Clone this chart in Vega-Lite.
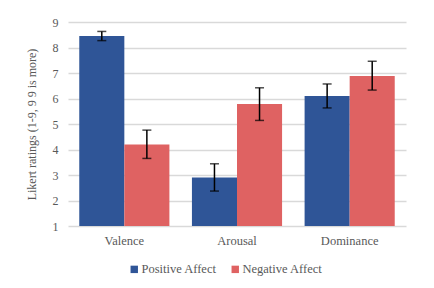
{
  "$schema": "https://vega.github.io/schema/vega-lite/v6.json",
  "width": 338,
  "height": 204,
  "autosize": {"type": "none"},
  "padding": {"left": 68, "top": 22, "right": 28, "bottom": 62},
  "background": "white",
  "config": {
    "view": {"stroke": null},
    "font": "Liberation Serif",
    "axis": {"labelFont": "Liberation Serif", "titleFont": "Liberation Serif", "labelColor": "#595959", "titleColor": "#595959", "labelFontSize": 12, "titleFontSize": 12, "titleFontWeight": "normal"},
    "legend": {"labelFont": "Liberation Serif", "labelColor": "#595959", "labelFontSize": 12}
  },
  "data": {
    "values": [
      {"dim": "Valence", "affect": "Positive Affect", "mean": 8.45, "lo": 8.27, "hi": 8.63},
      {"dim": "Valence", "affect": "Negative Affect", "mean": 4.2, "lo": 3.65, "hi": 4.76},
      {"dim": "Arousal", "affect": "Positive Affect", "mean": 2.9, "lo": 2.37, "hi": 3.44},
      {"dim": "Arousal", "affect": "Negative Affect", "mean": 5.78, "lo": 5.14, "hi": 6.42},
      {"dim": "Dominance", "affect": "Positive Affect", "mean": 6.1, "lo": 5.63, "hi": 6.57},
      {"dim": "Dominance", "affect": "Negative Affect", "mean": 6.88, "lo": 6.33, "hi": 7.46}
    ]
  },
  "encoding": {
    "x": {
      "field": "dim", "type": "nominal", "sort": ["Valence", "Arousal", "Dominance"],
      "scale": {"paddingInner": 0.2, "paddingOuter": 0.1},
      "axis": {"title": null, "labelAngle": 0, "domain": false, "ticks": false, "labelPadding": 8, "labelFont": "Liberation Serif", "labelFontSize": 12.5}
    },
    "xOffset": {"field": "affect", "type": "nominal", "sort": ["Positive Affect", "Negative Affect"], "scale": {"paddingInner": 0, "paddingOuter": 0}}
  },
  "layer": [
    {
      "mark": {"type": "bar"},
      "encoding": {
        "y": {
          "field": "mean", "type": "quantitative",
          "scale": {"domain": [1, 9], "nice": false, "zero": false},
          "axis": {"title": "Likert ratings (1-9, 9 9 is more)", "values": [1,2,3,4,5,6,7,8,9], "domain": false, "ticks": false, "grid": true, "gridColor": "#D9D9D9", "gridWidth": 1.5, "labelPadding": 10, "titlePadding": 14, "labelFont": "Liberation Serif", "titleFont": "Liberation Serif"}
        },
        "y2": {"datum": 1},
        "color": {
          "field": "affect", "type": "nominal", "sort": ["Positive Affect", "Negative Affect"],
          "scale": {"range": ["#2F5597", "#DF6262"]},
          "legend": {"title": null, "orient": "none", "direction": "horizontal", "legendX": 60, "legendY": 241, "symbolType": "square", "symbolSize": 55, "symbolStrokeWidth": 0, "columnPadding": 12, "labelOffset": 1, "labelFont": "Liberation Serif", "labelFontSize": 12.5}
        }
      }
    },
    {
      "mark": {"type": "rule", "color": "black", "strokeWidth": 1.5},
      "encoding": {
        "y": {"field": "lo", "type": "quantitative", "axis": {"title": "Likert ratings (1-9, 9 9 is more)", "values": [1,2,3,4,5,6,7,8,9], "domain": false, "ticks": false, "grid": true, "gridColor": "#D9D9D9", "gridWidth": 1.5, "labelPadding": 10, "titlePadding": 14, "labelFont": "Liberation Serif", "titleFont": "Liberation Serif"}},
        "y2": {"field": "hi"}
      }
    },
    {
      "mark": {"type": "tick", "color": "black", "thickness": 1.5, "size": 9},
      "encoding": {"y": {"field": "lo", "type": "quantitative", "axis": {"title": "Likert ratings (1-9, 9 9 is more)", "values": [1,2,3,4,5,6,7,8,9], "domain": false, "ticks": false, "grid": true, "gridColor": "#D9D9D9", "gridWidth": 1.5, "labelPadding": 10, "titlePadding": 14, "labelFont": "Liberation Serif", "titleFont": "Liberation Serif"}}}
    },
    {
      "mark": {"type": "tick", "color": "black", "thickness": 1.5, "size": 9},
      "encoding": {"y": {"field": "hi", "type": "quantitative", "axis": {"title": "Likert ratings (1-9, 9 9 is more)", "values": [1,2,3,4,5,6,7,8,9], "domain": false, "ticks": false, "grid": true, "gridColor": "#D9D9D9", "gridWidth": 1.5, "labelPadding": 10, "titlePadding": 14, "labelFont": "Liberation Serif", "titleFont": "Liberation Serif"}}}
    }
  ]
}
